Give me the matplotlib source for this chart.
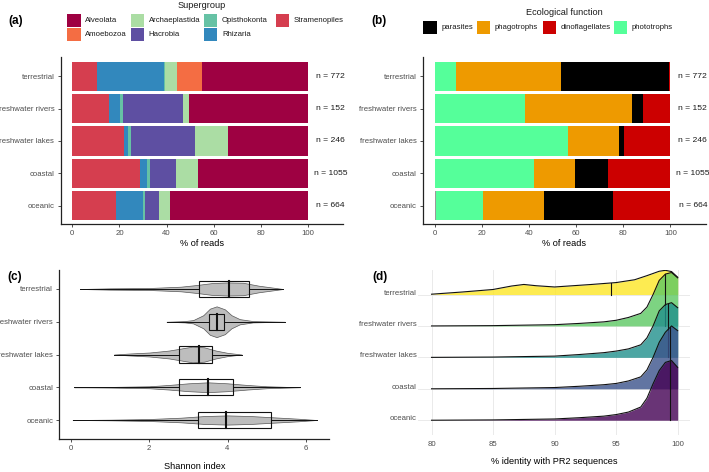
import numpy as np
import matplotlib
matplotlib.use('Agg')
import matplotlib.pyplot as plt
from matplotlib.patches import Rectangle

plt.rcParams['font.family'] = ['Liberation Sans', 'DejaVu Sans']

# categories (top to bottom)
habitats = ['terrestrial', 'freshwater rivers', 'freshwater lakes', 'coastal', 'oceanic']
n_samples = ['n = 772', 'n = 152', 'n = 246', 'n = 1055', 'n = 664']

# (a) supergroup composition, % of reads, stacked left -> right
sg_stack = ['Stramenopiles', 'Rhizaria', 'Opisthokonta', 'Hacrobia', 'Archaeplastida', 'Amoebozoa', 'Alveolata']
stramenopiles = [10.6, 15.6, 21.8, 28.6, 18.5]
rhizaria = [28.2, 4.8, 2.0, 3.1, 11.3]
opisthokonta = [0.7, 1.2, 1.1, 1.1, 1.0]
hacrobia = [0.0, 25.2, 27.0, 11.2, 6.0]
archaeplastida = [4.8, 2.7, 14.0, 9.3, 4.6]
amoebozoa = [10.6, 0.0, 0.0, 0.0, 0.0]
alveolata = [45.1, 50.5, 34.1, 46.7, 58.6]
sg_colors = {'Alveolata': '#9E0142', 'Amoebozoa': '#F46D43', 'Archaeplastida': '#ABDDA4',
             'Hacrobia': '#5E4FA2', 'Opisthokonta': '#66C2A5', 'Rhizaria': '#3288BD',
             'Stramenopiles': '#D53E4F'}
sg_legend = ['Alveolata', 'Amoebozoa', 'Archaeplastida', 'Hacrobia', 'Opisthokonta', 'Rhizaria', 'Stramenopiles']

# (b) ecological function, % of reads, stacked left -> right
other = [0.0, 0.0, 0.0, 0.3, 0.5]
phototrophs = [8.9, 38.1, 56.5, 41.8, 19.9]
phagotrophs = [44.6, 45.4, 21.7, 17.6, 26.1]
parasites = [46.1, 4.8, 2.1, 14.0, 29.0]
dinoflagellates = [0.4, 11.7, 19.7, 26.3, 24.5]
eco_colors = {'parasites': '#000000', 'phagotrophs': '#EE9A00', 'dinoflagellates': '#CC0000',
              'phototrophs': '#55FF9A'}
eco_legend = ['parasites', 'phagotrophs', 'dinoflagellates', 'phototrophs']

# (c) Shannon index: box stats
sh_q1 = [3.27, 3.52, 2.76, 2.76, 3.25]
sh_med = [4.04, 3.74, 3.28, 3.50, 3.96]
sh_q3 = [4.54, 3.91, 3.59, 4.13, 5.10]
sh_lo = [0.23, 2.44, 1.10, 0.08, 0.04]
sh_hi = [5.42, 5.46, 4.36, 5.85, 6.28]
# violin outlines: x positions and half widths
vio_x = [
    [0.23, 1.0, 2.0, 2.8, 3.2, 3.6, 4.0, 4.4, 4.8, 5.42],
    [2.44, 2.9, 3.12, 3.38, 3.55, 3.72, 3.93, 4.1, 4.31, 4.65, 5.46],
    [1.1, 1.5, 2.0, 2.5, 2.8, 3.1, 3.4, 3.7, 4.0, 4.36],
    [0.08, 1.0, 2.0, 2.5, 3.0, 3.5, 4.0, 4.5, 5.0, 5.85],
    [0.04, 1.0, 2.0, 2.8, 3.4, 4.0, 4.6, 5.2, 5.8, 6.28],
]
vio_w = [
    [0, 0.02, 0.03, 0.07, 0.12, 0.18, 0.2, 0.19, 0.1, 0],
    [0, 0.02, 0.05, 0.2, 0.4, 0.47, 0.38, 0.2, 0.08, 0.02, 0],
    [0, 0.03, 0.06, 0.12, 0.18, 0.24, 0.22, 0.12, 0.05, 0],
    [0, 0.01, 0.03, 0.07, 0.12, 0.15, 0.12, 0.07, 0.03, 0],
    [0, 0.01, 0.03, 0.07, 0.12, 0.14, 0.12, 0.08, 0.04, 0],
]

# (d) % identity with PR2 - scaled density profiles
terr_x = [80, 82.5, 85, 86.5, 87.5, 88.5, 90, 91.5, 93, 95, 96.5, 97.5, 98.5, 99, 99.5, 100]
terr_h = [0.01, 0.08, 0.16, 0.27, 0.32, 0.28, 0.24, 0.28, 0.32, 0.38, 0.47, 0.6, 0.74, 0.77, 0.73, 0.55]
id_x = [80, 85, 90, 92, 94, 95, 96, 97, 97.5, 98, 98.5, 99, 99.5, 100]
rivers_h = [0, 0.01, 0.04, 0.08, 0.13, 0.18, 0.27, 0.4, 0.6, 1.0, 1.45, 1.65, 1.7, 1.53]
lakes_h = [0, 0.01, 0.04, 0.09, 0.15, 0.2, 0.27, 0.4, 0.62, 1.0, 1.48, 1.68, 1.74, 1.58]
coastal_h = [0, 0.01, 0.04, 0.08, 0.13, 0.17, 0.25, 0.38, 0.6, 1.0, 1.48, 1.8, 2.0, 1.85]
oceanic_h = [0, 0.01, 0.04, 0.08, 0.13, 0.18, 0.26, 0.42, 0.7, 1.16, 1.58, 1.84, 1.9, 1.68]
id_median = [94.6, 99.0, 99.2, 99.4, 99.4]
ridge_colors = ['#FDE725', '#5DC863', '#21908C', '#3B528B', '#440154']

W, H = 709, 472
fig = plt.figure(figsize=(W / 100, H / 100), dpi=100)


def ax_px(left, right, top, bottom):
    return fig.add_axes([left / W, 1 - bottom / H, (right - left) / W, (bottom - top) / H])


ypos = [5, 4, 3, 2, 1]
tick_col = '#4D4D4D'
fs = 5.6


def classic(ax):
    for s in ['top', 'right']:
        ax.spines[s].set_visible(False)
    for s in ['left', 'bottom']:
        ax.spines[s].set_linewidth(0.9)
        ax.spines[s].set_color('#222222')
    ax.tick_params(length=2.5, width=0.6, color='#333333', labelsize=fs, labelcolor=tick_col, pad=2)


def stacked(ax, series, colors):
    left = np.zeros(5)
    for vals, col in zip(series, colors):
        ax.barh(ypos, vals, left=left, height=0.9, color=col, linewidth=0)
        left += np.array(vals)
    for y, t in zip(ypos, n_samples):
        ax.text(109.5, y, t, ha='center', va='center', fontsize=6.1, color='#1A1A1A')
    ax.set_xlim(-5, 115)
    ax.set_ylim(0.43, 5.6)
    ax.set_xticks([0, 20, 40, 60, 80, 100])
    ax.set_yticks(ypos)
    ax.set_yticklabels(habitats)
    ax.set_xlabel('% of reads', fontsize=6.6, labelpad=1)
    classic(ax)


def legend_px(title, title_xy, labels, colors, key_x, key_y):
    fig.text(title_xy[0] / W, 1 - title_xy[1] / H, title, fontsize=6.6, ha='center', va='center',
             color='#1A1A1A')
    for lab, col, kx, ky in zip(labels, colors, key_x, key_y):
        fig.add_artist(Rectangle((kx / W, 1 - (ky + 6.6) / H), 13.4 / W, 13.2 / H,
                                 transform=fig.transFigure, facecolor=col, edgecolor='none'))
        fig.text((kx + 18) / W, 1 - ky / H, lab, fontsize=fs, ha='left', va='center', color='#1A1A1A')


# (a)
ax_a = ax_px(60.5, 343.4, 57, 224)
stacked(ax_a, [stramenopiles, rhizaria, opisthokonta, hacrobia, archaeplastida, amoebozoa, alveolata],
        [sg_colors[k] for k in sg_stack])
legend_px('Supergroup', (201.7, 5.8), sg_legend, [sg_colors[k] for k in sg_legend],
          [67.3, 67.3, 130.7, 130.7, 204, 204, 276], [20.7, 34.5, 20.7, 34.5, 20.7, 34.5, 20.7])

# (b)
ax_b = ax_px(422.9, 705.8, 57, 224)
stacked(ax_b, [other, phototrophs, phagotrophs, parasites, dinoflagellates],
        ['#999999', eco_colors['phototrophs'], eco_colors['phagotrophs'],
         eco_colors['parasites'], eco_colors['dinoflagellates']])
legend_px('Ecological function', (564.3, 12.3), eco_legend, [eco_colors[k] for k in eco_legend],
          [423.3, 477, 542.7, 614], [27.7, 27.7, 27.7, 27.7])

# (c)
ax_c = ax_px(59.3, 329.3, 270, 439)
for i, y in enumerate(ypos):
    xs = np.array(vio_x[i])
    ws = np.array(vio_w[i])
    ax_c.fill_between(xs, y - ws, y + ws, color='#BDBDBD', edgecolor='#555555', linewidth=0.5, zorder=2)
    ax_c.plot([sh_lo[i], sh_q1[i]], [y, y], color='#111111', lw=0.7, zorder=3)
    ax_c.plot([sh_q3[i], sh_hi[i]], [y, y], color='#111111', lw=0.7, zorder=3)
    ax_c.add_patch(Rectangle((sh_q1[i], y - 0.25), sh_q3[i] - sh_q1[i], 0.5,
                             facecolor='none', edgecolor='#111111', lw=0.8, zorder=4))
    ax_c.plot([sh_med[i], sh_med[i]], [y - 0.25, y + 0.25], color='#111111', lw=1.5, zorder=5)
ax_c.set_xlim(-0.3, 6.6)
ax_c.set_ylim(0.42, 5.58)
ax_c.set_xticks([0, 2, 4, 6])
ax_c.set_yticks(ypos)
ax_c.set_yticklabels(habitats)
ax_c.set_xlabel('Shannon index', fontsize=6.6, labelpad=7)
classic(ax_c)

# (d)
ax_d = ax_px(418, 690, 270, 435)
ridges = [(terr_x, terr_h), (id_x, rivers_h), (id_x, lakes_h), (id_x, coastal_h), (id_x, oceanic_h)]
for i, (xs, hs) in enumerate(ridges):
    base = ypos[i]
    xs = np.array(xs)
    top = base + np.array(hs)
    z = 2 + i * 2
    ax_d.fill_between(xs, base, top, color=ridge_colors[i], alpha=0.8, linewidth=0, zorder=z)
    ax_d.plot(xs, top, color='#111111', lw=0.8, zorder=z + 1)
    m = id_median[i]
    ax_d.plot([m, m], [base, base + np.interp(m, xs, hs)], color='#111111', lw=0.8, zorder=z + 1)
ax_d.set_xlim(78.9, 101)
ax_d.set_ylim(0.53, 5.78)
ax_d.set_xticks([80, 85, 90, 95, 100])
ax_d.set_yticks(ypos)
ax_d.set_yticklabels(habitats, va='baseline')
ax_d.grid(True, color='#E6E6E6', lw=0.6, zorder=0)
ax_d.set_axisbelow(True)
for s in ax_d.spines.values():
    s.set_visible(False)
ax_d.tick_params(length=0, labelsize=fs, labelcolor=tick_col, pad=1)
ax_d.tick_params(axis='x', pad=4)
ax_d.set_xlabel('% identity with PR2 sequences', fontsize=6.6, labelpad=7)

# panel letters
for lab, x, y in [('(a)', 8, 21), ('(b)', 371, 21), ('(c)', 7, 277), ('(d)', 372, 277)]:
    fig.text(x / W, 1 - y / H, lab, fontsize=8.5, fontweight='bold', va='center', ha='left')

fig.savefig('out.png', dpi=100)
